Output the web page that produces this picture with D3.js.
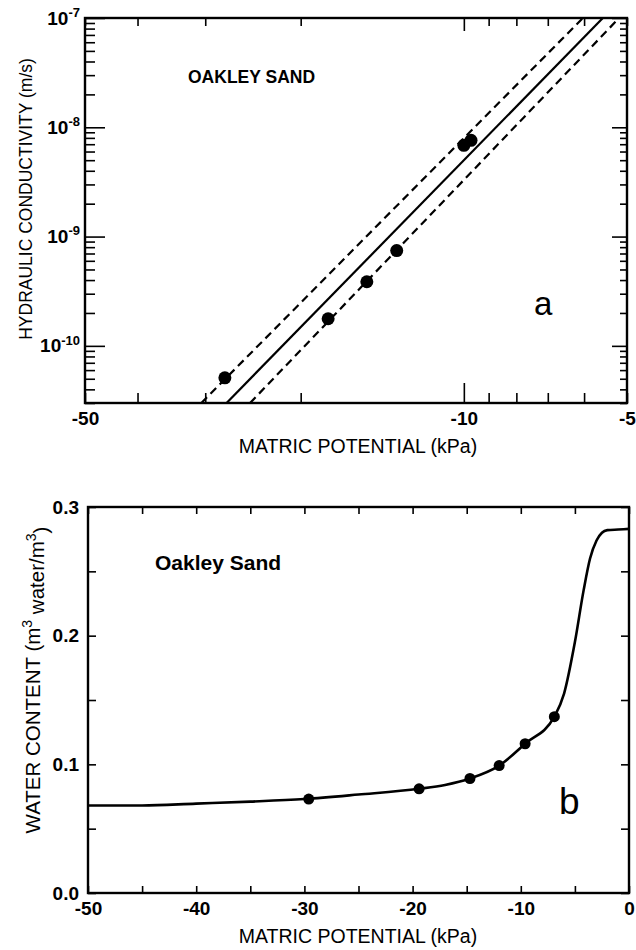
<!DOCTYPE html>
<html>
<head>
<meta charset="utf-8">
<script src="https://cdn.jsdelivr.net/npm/d3@7"></script>
<style>
	body { margin: 0; background: #fff; }
	text { font-family: "Liberation Sans", Arial, Helvetica, sans-serif; fill: #000; }
	.tick line { stroke: #000; stroke-width: 1.6; }
	.domain { display: none; }
</style>
</head>
<body>
<script>
// ---- panel a : hydraulic conductivity (log-log)
const kObsPsi = [-27.6, -17.8, -15.1, -13.3, -10.0, -9.7];
const kObsVal = [5.1e-11, 1.77e-10, 3.86e-10, 7.44e-10, 6.84e-9, 7.6e-9];
// fitted line and its two bounds, as end points
const kFitPsi   = [-27.4, -5.54];
const kUpperPsi = [-30.5, -6.03];
const kLowerPsi = [-24.8, -5.17];
const kFitVal   = [3e-11, 1e-7];
const kTicksX   = [-50, -40, -30, -20, -10, -9, -8, -7, -6, -5];
const kLabelsX  = [-50, -10, -5];

// ---- panel b : water content
const thPsi = [-50, -45, -40, -35, -30, -25, -19.4, -17, -14.7, -12, -9.6, -6.9, -6.0, -5.0, -4.2, -3.6, -3.0, -2.5, -2.0, -1, 0];
const thFit = [0.068, 0.068, 0.0695, 0.071, 0.073, 0.0765, 0.081, 0.084, 0.089, 0.099, 0.116, 0.137, 0.155, 0.195, 0.235, 0.260, 0.274, 0.280, 0.282, 0.2825, 0.283];
const thObsPsi = [-29.6, -19.4, -14.7, -12.0, -9.6, -6.9];
const thObsVal = [0.073, 0.081, 0.089, 0.099, 0.116, 0.137];
const thTicksX = d3.range(-50, 1, 5);
const thLabelsX = d3.range(-50, 1, 10);
const thTicksY = d3.range(0, 0.301, 0.05);
const thLabelsY = [0, 0.1, 0.2, 0.3];

const svg = d3.select("body").append("svg")
	.attr("width", 636)
	.attr("height", 950);

const isDecade = d => Math.abs(Math.log10(d) - Math.round(Math.log10(d))) < 1e-6;
// bold tick labels, bigger than d3's default
const boldLabels = sel => sel.selectAll(".tick text")
	.style("font-size", "19px").style("font-weight", "bold");

// ================= panel a
{
	const L = 85, R = 627, T = 18, B = 403;
	const x = d3.scaleLog().domain([-50, -5]).range([L, R]);
	const y = d3.scaleLog().domain([3e-11, 1e-7]).range([B, T]);
	const g = svg.append("g");

	const yTicks = y.ticks();
	const minorY = yTicks.filter(d => !isDecade(d));
	const majorY = yTicks.filter(isDecade);

	// ticks, all pointing inward
	g.append("g").attr("transform", `translate(0,${B})`)
		.call(d3.axisBottom(x).tickValues(kTicksX.filter(d => d != -10)).tickSize(-10).tickSizeOuter(0).tickFormat(""));
	g.append("g").attr("transform", `translate(0,${B})`)
		.call(d3.axisBottom(x).tickValues([-10]).tickSize(-20).tickSizeOuter(0).tickFormat(""));
	g.append("g").attr("transform", `translate(0,${T})`)
		.call(d3.axisTop(x).tickValues(kTicksX.filter(d => d != -10)).tickSize(-8).tickSizeOuter(0).tickFormat(""));
	g.append("g").attr("transform", `translate(0,${T})`)
		.call(d3.axisTop(x).tickValues([-10]).tickSize(-13).tickSizeOuter(0).tickFormat(""));
	g.append("g").attr("transform", `translate(${L},0)`)
		.call(d3.axisLeft(y).tickValues(minorY).tickSize(-10).tickSizeOuter(0).tickFormat(""));
	g.append("g").attr("transform", `translate(${L},0)`)
		.call(d3.axisLeft(y).tickValues(majorY).tickSize(-20).tickSizeOuter(0).tickFormat(""));
	g.append("g").attr("transform", `translate(${R},0)`)
		.call(d3.axisRight(y).tickValues(minorY).tickSize(-7).tickSizeOuter(0).tickFormat(""));
	g.append("g").attr("transform", `translate(${R},0)`)
		.call(d3.axisRight(y).tickValues(majorY).tickSize(-15).tickSizeOuter(0).tickFormat(""));

	// labels
	g.append("g").attr("transform", `translate(0,${B})`)
		.call(d3.axisBottom(x).tickValues(kLabelsX).tickSize(0).tickPadding(9).tickFormat(d => String(d)))
		.call(boldLabels);
	const yl = g.append("g").attr("transform", `translate(${L},0)`)
		.call(d3.axisLeft(y).tickValues(majorY).tickSize(0).tickPadding(5).tickFormat(""))
		.call(boldLabels);
	yl.selectAll(".tick text").each(function (d) {
		const t = d3.select(this);
		t.append("tspan").text("10");
		t.append("tspan").text(Math.round(Math.log10(d)))
			.style("font-size", "13px").attr("dy", "-0.6em");
	});

	g.append("rect").attr("x", L).attr("y", T).attr("width", R - L).attr("height", B - T)
		.attr("fill", "none").attr("stroke", "#000").attr("stroke-width", 2.4);

	svg.append("clipPath").attr("id", "clipA")
		.append("rect").attr("x", L).attr("y", T).attr("width", R - L).attr("height", B - T);

	const line = d3.line().x(d => x(d[0])).y(d => y(d[1]));
	const fits = [
		{ psi: kUpperPsi, dash: "8,5" },
		{ psi: kFitPsi, dash: null },
		{ psi: kLowerPsi, dash: "8,5" }
	];
	g.append("g").attr("clip-path", "url(#clipA)")
		.selectAll("path").data(fits).join("path")
		.attr("d", f => line(d3.zip(f.psi, kFitVal)))
		.attr("fill", "none").attr("stroke", "#000").attr("stroke-width", 2.2)
		.attr("stroke-dasharray", f => f.dash);

	g.append("g").selectAll("circle").data(d3.zip(kObsPsi, kObsVal)).join("circle")
		.attr("cx", d => x(d[0])).attr("cy", d => y(d[1])).attr("r", 6.5).attr("fill", "#000");

	g.append("text").attr("x", 188).attr("y", 83).attr("font-weight", "bold")
		.attr("font-size", "17.5px").text("OAKLEY SAND");
	g.append("text").attr("x", 534).attr("y", 315).attr("font-size", "33px").text("a");
	g.append("text").attr("x", 358).attr("y", 453).attr("text-anchor", "middle")
		.attr("font-size", "19.5px").text("MATRIC POTENTIAL (kPa)");
	g.append("text").attr("transform", "translate(32,199) rotate(-90)").attr("text-anchor", "middle")
		.attr("font-size", "17.5px").text("HYDRAULIC CONDUCTIVITY (m/s)");
}

// ================= panel b
{
	const L = 88, R = 629, T = 507, B = 893;
	const x = d3.scaleLinear().domain([-50, 0]).range([L, R]);
	const y = d3.scaleLinear().domain([0, 0.3]).range([B, T]);
	const g = svg.append("g");

	g.append("g").attr("transform", `translate(0,${B})`)
		.call(d3.axisBottom(x).tickValues(thTicksX).tickSize(-7).tickSizeOuter(0).tickFormat(""));
	g.append("g").attr("transform", `translate(0,${T})`)
		.call(d3.axisTop(x).tickValues(thTicksX).tickSize(-7).tickSizeOuter(0).tickFormat(""));
	g.append("g").attr("transform", `translate(${L},0)`)
		.call(d3.axisLeft(y).tickValues(thTicksY).tickSize(-8).tickSizeOuter(0).tickFormat(""));
	g.append("g").attr("transform", `translate(${R},0)`)
		.call(d3.axisRight(y).tickValues(thTicksY).tickSize(-8).tickSizeOuter(0).tickFormat(""));

	g.append("g").attr("transform", `translate(0,${B})`)
		.call(d3.axisBottom(x).tickValues(thLabelsX).tickSize(0).tickPadding(9).tickFormat(d => String(d)))
		.call(boldLabels);
	g.append("g").attr("transform", `translate(${L},0)`)
		.call(d3.axisLeft(y).tickValues(thLabelsY).tickSize(0).tickPadding(9).tickFormat(d3.format(".1f")))
		.call(boldLabels);

	g.append("rect").attr("x", L).attr("y", T).attr("width", R - L).attr("height", B - T)
		.attr("fill", "none").attr("stroke", "#000").attr("stroke-width", 2.4);

	const line = d3.line().x(d => x(d[0])).y(d => y(d[1])).curve(d3.curveMonotoneX);
	g.append("path").attr("d", line(d3.zip(thPsi, thFit)))
		.attr("fill", "none").attr("stroke", "#000").attr("stroke-width", 2.6);

	g.append("g").selectAll("circle").data(d3.zip(thObsPsi, thObsVal)).join("circle")
		.attr("cx", d => x(d[0])).attr("cy", d => y(d[1])).attr("r", 5.5).attr("fill", "#000");

	g.append("text").attr("x", 155).attr("y", 570).attr("font-weight", "bold")
		.attr("font-size", "21px").text("Oakley Sand");
	g.append("text").attr("x", 559).attr("y", 814).attr("font-size", "37px").text("b");
	g.append("text").attr("x", 358).attr("y", 943).attr("text-anchor", "middle")
		.attr("font-size", "19.5px").text("MATRIC POTENTIAL (kPa)");
	const yt = g.append("text").attr("transform", "translate(40,680) rotate(-90)").attr("text-anchor", "middle")
		.attr("font-size", "20.5px");
	yt.append("tspan").text("WATER CONTENT  (m");
	yt.append("tspan").text("3").attr("font-size", "14px").attr("dy", "-0.6em");
	yt.append("tspan").text(" water/m").attr("dy", "0.6em");
	yt.append("tspan").text("3").attr("font-size", "14px").attr("dy", "-0.6em");
	yt.append("tspan").text(")").attr("dy", "0.6em");
}
</script>
</body>
</html>
